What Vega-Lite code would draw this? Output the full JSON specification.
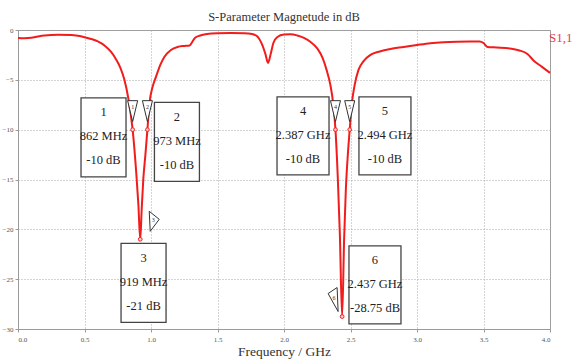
{
  "$schema": "https://vega.github.io/schema/vega-lite/v6.json",
  "autosize": "none",
  "width": 532,
  "height": 299,
  "padding": {"left": 18, "top": 30, "right": 24, "bottom": 34},
  "background": "white",
  "config": {
    "font": "Liberation Serif",
    "view": {"stroke": "#9a9a9a", "strokeWidth": 1},
    "axis": {
      "grid": true, "gridColor": "#a8a8a8", "gridDash": [1, 2], "gridWidth": 1,
      "domainColor": "#9a9a9a", "tickColor": "#9a9a9a", "tickSize": 3,
      "labelFont": "Liberation Serif", "labelFontSize": 7, "labelColor": "#555",
      "titleFont": "Liberation Serif", "titleFontWeight": "normal", "titleColor": "#333"
    }
  },
  "title": {"text": "S-Parameter Magnetude in dB", "font": "Liberation Serif", "fontSize": 12.5, "fontWeight": "normal", "color": "#333", "offset": 3},
  "resolve": {"scale": {"shape": "independent"}},
  "datasets": {
    "curve": [
      {"f": 0.00, "dB": -0.80}, {"f": 0.05, "dB": -0.82}, {"f": 0.10, "dB": -0.78}, {"f": 0.15, "dB": -0.65},
      {"f": 0.20, "dB": -0.55}, {"f": 0.30, "dB": -0.48}, {"f": 0.40, "dB": -0.50}, {"f": 0.45, "dB": -0.58},
      {"f": 0.50, "dB": -0.72}, {"f": 0.55, "dB": -0.90}, {"f": 0.60, "dB": -1.15}, {"f": 0.65, "dB": -1.55},
      {"f": 0.70, "dB": -2.20}, {"f": 0.74, "dB": -3.00}, {"f": 0.77, "dB": -3.80}, {"f": 0.80, "dB": -5.00},
      {"f": 0.83, "dB": -6.90}, {"f": 0.862, "dB": -10.00}, {"f": 0.89, "dB": -14.50}, {"f": 0.905, "dB": -17.50},
      {"f": 0.919, "dB": -21.00}, {"f": 0.930, "dB": -18.00}, {"f": 0.942, "dB": -15.00}, {"f": 0.958, "dB": -12.50},
      {"f": 0.973, "dB": -10.00}, {"f": 0.99, "dB": -7.20}, {"f": 1.01, "dB": -5.80}, {"f": 1.04, "dB": -4.60},
      {"f": 1.07, "dB": -3.50}, {"f": 1.10, "dB": -2.70}, {"f": 1.15, "dB": -2.00}, {"f": 1.20, "dB": -1.70},
      {"f": 1.25, "dB": -1.60}, {"f": 1.29, "dB": -1.55}, {"f": 1.31, "dB": -1.20}, {"f": 1.33, "dB": -0.80},
      {"f": 1.37, "dB": -0.55}, {"f": 1.42, "dB": -0.40}, {"f": 1.50, "dB": -0.32}, {"f": 1.60, "dB": -0.30},
      {"f": 1.70, "dB": -0.32}, {"f": 1.76, "dB": -0.40}, {"f": 1.80, "dB": -0.65}, {"f": 1.83, "dB": -1.30},
      {"f": 1.86, "dB": -2.40}, {"f": 1.88, "dB": -3.30}, {"f": 1.90, "dB": -2.40}, {"f": 1.92, "dB": -1.30},
      {"f": 1.95, "dB": -0.70}, {"f": 2.00, "dB": -0.45}, {"f": 2.05, "dB": -0.42}, {"f": 2.10, "dB": -0.55},
      {"f": 2.15, "dB": -0.80}, {"f": 2.20, "dB": -1.20}, {"f": 2.25, "dB": -1.85}, {"f": 2.29, "dB": -2.80},
      {"f": 2.32, "dB": -4.00}, {"f": 2.35, "dB": -5.60}, {"f": 2.37, "dB": -7.40}, {"f": 2.387, "dB": -10.00},
      {"f": 2.405, "dB": -15.00}, {"f": 2.42, "dB": -20.50}, {"f": 2.437, "dB": -28.75}, {"f": 2.452, "dB": -21.00},
      {"f": 2.465, "dB": -16.00}, {"f": 2.48, "dB": -12.50}, {"f": 2.494, "dB": -10.00}, {"f": 2.51, "dB": -7.40},
      {"f": 2.53, "dB": -5.60}, {"f": 2.56, "dB": -4.00}, {"f": 2.60, "dB": -3.10}, {"f": 2.65, "dB": -2.50},
      {"f": 2.72, "dB": -2.15}, {"f": 2.80, "dB": -1.90}, {"f": 2.90, "dB": -1.70}, {"f": 3.00, "dB": -1.50},
      {"f": 3.10, "dB": -1.32}, {"f": 3.20, "dB": -1.22}, {"f": 3.30, "dB": -1.17}, {"f": 3.40, "dB": -1.15},
      {"f": 3.47, "dB": -1.15}, {"f": 3.50, "dB": -1.30}, {"f": 3.53, "dB": -1.70}, {"f": 3.60, "dB": -1.75},
      {"f": 3.70, "dB": -1.85}, {"f": 3.77, "dB": -2.05}, {"f": 3.83, "dB": -2.40}, {"f": 3.88, "dB": -3.10},
      {"f": 3.94, "dB": -3.70}, {"f": 4.00, "dB": -4.30}
    ],
    "markers": [
      {"id": "1", "f": 0.862, "dB": -10},
      {"id": "2", "f": 0.973, "dB": -10},
      {"id": "3", "f": 0.919, "dB": -21},
      {"id": "4", "f": 2.387, "dB": -10},
      {"id": "5", "f": 2.494, "dB": -10},
      {"id": "6", "f": 2.437, "dB": -28.75}
    ],
    "boxes": [
      {"id": "1", "unit": "MHz", "label": "1\n862 MHz\n-10 dB", "cf": 0.643, "cdB": -10.78},
      {"id": "2", "unit": "MHz", "label": "2\n973 MHz\n-10 dB", "cf": 1.195, "cdB": -11.23},
      {"id": "3", "unit": "MHz", "label": "3\n919 MHz\n-21 dB", "cf": 0.944, "cdB": -25.38},
      {"id": "4", "unit": "GHz", "label": "4\n2.387 GHz\n-10 dB", "cf": 2.143, "cdB": -10.63},
      {"id": "5", "unit": "GHz", "label": "5\n2.494 GHz\n-10 dB", "cf": 2.759, "cdB": -10.63},
      {"id": "6", "unit": "GHz", "label": "6\n2.437 GHz\n-28.75 dB", "cf": 2.684, "cdB": -25.58}
    ]
  },
  "layer": [
    {
      "data": {"name": "curve"},
      "transform": [{"calculate": "'S1,1'", "as": "series"}],
      "mark": {"type": "line", "strokeWidth": 2, "interpolate": "monotone"},
      "encoding": {
        "x": {"field": "f", "type": "quantitative", "scale": {"domain": [0, 4], "nice": false},
              "axis": {"values": [0, 0.5, 1, 1.5, 2, 2.5, 3, 3.5, 4], "title": "Frequency / GHz", "titleFontSize": 13.5, "titlePadding": 2, "labelPadding": 3}},
        "y": {"field": "dB", "type": "quantitative", "scale": {"domain": [-30, 0], "nice": false},
              "axis": {"values": [0, -5, -10, -15, -20, -25, -30], "title": null, "labelPadding": 2}},
        "color": {"field": "series", "type": "nominal", "scale": {"range": ["#f21c1c"]},
                  "legend": {"title": null, "orient": "none", "legendX": 518, "legendY": 1, "padding": 0, "symbolOpacity": 0, "symbolSize": 0, "symbolStrokeWidth": 0, "labelOffset": 0,
                             "labelFont": "Liberation Serif", "labelFontSize": 13, "labelColor": "#ea3a50", "labelLimit": 60}}
      }
    },
    {
      "data": {"name": "boxes"},
      "mark": {"type": "point", "filled": false, "size": 4, "fill": "white", "fillOpacity": 1, "stroke": "#444", "strokeWidth": 1.3, "opacity": 1},
      "encoding": {
        "x": {"field": "cf", "type": "quantitative"},
        "y": {"field": "cdB", "type": "quantitative"},
        "shape": {"field": "unit", "type": "nominal", "legend": null,
                  "scale": {"domain": ["MHz", "GHz"], "range": ["M-22.5,-39.5L22.5,-39.5L22.5,39.5L-22.5,39.5Z", "M-26,-39L26,-39L26,39L-26,39Z"]}}
      }
    },
    {
      "data": {"name": "boxes"},
      "mark": {"type": "text", "font": "Liberation Serif", "fontSize": 12.5, "color": "#222", "lineBreak": "\n", "lineHeight": 24, "baseline": "middle", "align": "center", "dy": -25},
      "encoding": {
        "x": {"field": "cf", "type": "quantitative"},
        "y": {"field": "cdB", "type": "quantitative"},
        "text": {"field": "label"}
      }
    },
    {
      "data": {"name": "markers"},
      "mark": {"type": "point", "filled": false, "size": 4, "fill": "white", "fillOpacity": 1, "stroke": "#333", "strokeWidth": 1, "opacity": 1},
      "encoding": {
        "x": {"field": "f", "type": "quantitative"},
        "y": {"field": "dB", "type": "quantitative"},
        "shape": {"field": "id", "type": "nominal", "legend": null,
                  "scale": {"domain": ["1", "2", "3", "4", "5", "6"],
                            "range": ["M-5,-29L5,-29L0,-8Z", "M-5,-29L5,-29L0,-8Z", "M9,-28L19,-20L10,-8Z", "M-5,-29L5,-29L0,-8Z", "M-5,-29L5,-29L0,-8Z", "M-5,-29L-14,-23L-4,-5Z"]}}
      }
    },
    {
      "data": {"name": "markers"},
      "transform": [{"filter": "datum.id != '3' && datum.id != '6'"}],
      "mark": {"type": "text", "font": "Liberation Serif", "fontSize": 6, "color": "#333", "dy": -23, "baseline": "middle"},
      "encoding": {
        "x": {"field": "f", "type": "quantitative"},
        "y": {"field": "dB", "type": "quantitative"},
        "text": {"field": "id"}
      }
    },
    {
      "data": {"name": "markers"},
      "transform": [{"filter": "datum.id == '3'"}],
      "mark": {"type": "text", "font": "Liberation Serif", "fontSize": 6, "color": "#333", "dx": 13, "dy": -19, "baseline": "middle"},
      "encoding": {
        "x": {"field": "f", "type": "quantitative"},
        "y": {"field": "dB", "type": "quantitative"},
        "text": {"field": "id"}
      }
    },
    {
      "data": {"name": "markers"},
      "transform": [{"filter": "datum.id == '6'"}],
      "mark": {"type": "text", "font": "Liberation Serif", "fontSize": 6, "color": "#333", "dx": -8, "dy": -19, "baseline": "middle"},
      "encoding": {
        "x": {"field": "f", "type": "quantitative"},
        "y": {"field": "dB", "type": "quantitative"},
        "text": {"field": "id"}
      }
    },
    {
      "data": {"name": "markers"},
      "mark": {"type": "point", "filled": true, "size": 14, "fill": "#ffd0d0", "stroke": "#f21c1c", "strokeWidth": 1, "opacity": 1},
      "encoding": {
        "x": {"field": "f", "type": "quantitative"},
        "y": {"field": "dB", "type": "quantitative"}
      }
    }
  ]
}
